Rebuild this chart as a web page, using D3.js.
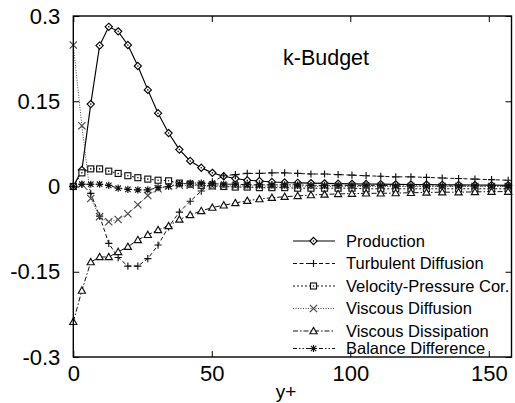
<!DOCTYPE html>
<html>
<head>
<meta charset="utf-8">
<script src="https://cdn.jsdelivr.net/npm/d3@7"></script>
<style>
  html, body { margin: 0; padding: 0; background: #fff; }
  svg { display: block; font-family: "Liberation Sans", Arial, Helvetica, sans-serif; }
</style>
</head>
<body>
<svg id="chart" width="515" height="403"></svg>
<script>
// Wall-normal positions (y+) of the sampled grid points
const yPlus = [0, 3.1, 6.3, 9.5, 12.8, 16.2, 19.7, 23.3, 26.9, 30.6, 34.4, 38.3, 42.2, 46.2,
  50.2, 54.3, 58.5, 62.8, 67.2, 71.7, 76.3, 81.0, 85.8, 90.7, 95.6, 100.6, 105.7, 111.0,
  116.4, 121.9, 127.5, 133.2, 139.1, 145.0, 151.0, 157.0];

// Budget terms of the turbulent kinetic energy equation
const production = [0, 0.029, 0.145, 0.248, 0.281, 0.273, 0.249, 0.212, 0.170, 0.129, 0.094,
  0.065, 0.045, 0.033, 0.024, 0.018, 0.014, 0.011, 0.0097, 0.008, 0.007, 0.0065, 0.006,
  0.0055, 0.005, 0.0047, 0.0044, 0.0041, 0.0038, 0.0035, 0.0033, 0.003, 0.0028, 0.0026,
  0.0024, 0.0022];
const turbulentDiffusion = [0, 0.004, -0.012, -0.052, -0.100, -0.125, -0.140, -0.140, -0.127,
  -0.103, -0.071, -0.045, -0.026, -0.008, 0.008, 0.019, 0.021, 0.023, 0.023, 0.024, 0.024,
  0.023, 0.022, 0.022, 0.021, 0.020, 0.019, 0.018, 0.017, 0.017, 0.016, 0.015, 0.014,
  0.013, 0.012, 0.011];
const velocityPressure = [0, 0.024, 0.031, 0.031, 0.027, 0.023, 0.019, 0.0155, 0.013, 0.011,
  0.010, 0.006, 0.004, 0.002, 0.001, 0, -0.001, -0.001, -0.002, -0.002, -0.002, -0.003,
  -0.003, -0.003, -0.003, -0.003, -0.004, -0.004, -0.004, -0.004, -0.004, -0.004, -0.004,
  -0.004, -0.004, -0.004];
const viscousDiffusion = [0.249, 0.107, -0.021, -0.053, -0.062, -0.058, -0.048, -0.032, -0.016,
  -0.004, 0.001, 0.002, 0.002, 0.002, 0.001, 0.001, 0.001, 0.001, 0.001, 0.0005, 0.0005,
  0.0005, 0.0005, 0, 0, 0, 0, 0, 0, 0, 0, 0, 0, 0, 0, 0];
const viscousDissipation = [-0.238, -0.183, -0.133, -0.124, -0.124, -0.115, -0.106, -0.094,
  -0.085, -0.0765, -0.0695, -0.058, -0.050, -0.043, -0.037, -0.033, -0.029, -0.025, -0.022,
  -0.0197, -0.018, -0.0165, -0.015, -0.014, -0.013, -0.0125, -0.012, -0.012, -0.0115,
  -0.011, -0.0105, -0.010, -0.010, -0.0095, -0.009, -0.009];
const balanceDifference = [0, 0.004, 0.004, 0.004, 0.002, -0.003, -0.005, -0.006, -0.006,
  -0.002, 0, 0.005, 0.006, 0.006, 0.005, 0.004, 0.004, 0.003, 0.003, 0.003, 0.003, 0.003,
  0.002, 0.002, 0.002, 0.002, 0.002, 0.002, 0.001, 0.001, 0.001, 0.001, 0.001, 0.001,
  0.001, 0.001];

const seriesNames = ["Production", "Turbulent Diffusion", "Velocity-Pressure Cor.",
  "Viscous Diffusion", "Viscous Dissipation", "Balance Difference"];
const seriesValues = [production, turbulentDiffusion, velocityPressure,
  viscousDiffusion, viscousDissipation, balanceDifference];

const xTicks = [0, 50, 100, 150];
const yTicks = [-0.3, -0.15, 0, 0.15, 0.3];
const yTickLabels = ["-0.3", "-0.15", "0", "0.15", "0.3"];
const titleText = "k-Budget";
const xLabel = "y+";

// ---- layout ----
const svg = d3.select("#chart");
const plotLeft = 73.3, plotRight = 511.5, plotTop = 16, plotBottom = 357;
const x = d3.scaleLinear().domain([0, 158.2]).range([plotLeft, plotRight]);
const y = d3.scaleLinear().domain([-0.3, 0.3]).range([plotBottom, plotTop]);

// line styles and markers per series
const styles = [
  { dash: null, color: "#000", width: 1.15, marker: "diamond" },
  { dash: "4,2.5", color: "#111", width: 1, marker: "plus" },
  { dash: "2,2", color: "#111", width: 1, marker: "square" },
  { dash: "1,1.5", color: "#444", width: 1, marker: "cross" },
  { dash: "5,2,1.5,2", color: "#111", width: 1, marker: "triangle" },
  { dash: "4,2,1.5,2,1.5,2", color: "#111", width: 1, marker: "star" }
];

function drawMarker(g, type, cx, cy, color) {
  const s = 3.6;
  const m = g.append("g").attr("transform", `translate(${cx},${cy})`)
    .attr("fill", "none").attr("stroke", color).attr("stroke-width", 1.15);
  switch (type) {
    case "diamond":
      m.append("path").attr("d", `M0,${-s}L${s},0L0,${s}L${-s},0Z`).attr("fill", "#fff");
      m.append("circle").attr("r", 0.8).attr("fill", color).attr("stroke", "none");
      break;
    case "plus":
      m.append("path").attr("d", `M${-s},0H${s}M0,${-s}V${s}`);
      break;
    case "square":
      m.append("rect").attr("x", -3).attr("y", -3).attr("width", 6).attr("height", 6).attr("fill", "#fff");
      m.append("circle").attr("r", 0.8).attr("fill", color).attr("stroke", "none");
      break;
    case "cross":
      m.append("path").attr("d", `M${-s},${-s}L${s},${s}M${-s},${s}L${s},${-s}`);
      break;
    case "triangle":
      m.append("path").attr("d", `M0,${-s}L${s},${s * 0.75}L${-s},${s * 0.75}Z`).attr("fill", "#fff");
      break;
    case "star":
      m.append("path").attr("d", `M${-s},0H${s}M0,${-s}V${s}M${-s * 0.75},${-s * 0.75}L${s * 0.75},${s * 0.75}M${-s * 0.75},${s * 0.75}L${s * 0.75},${-s * 0.75}`);
      break;
  }
}

const plot = svg.append("g");
const line = d3.line().x(d => x(d[0])).y(d => y(d[1]));

seriesValues.forEach((vals, i) => {
  const st = styles[i];
  const pts = yPlus.map((xv, j) => [xv, vals[j]]);
  plot.append("path").datum(pts)
    .attr("d", line)
    .attr("fill", "none")
    .attr("stroke", st.color)
    .attr("stroke-width", st.width)
    .attr("stroke-dasharray", st.dash);
});
seriesValues.forEach((vals, i) => {
  const st = styles[i];
  yPlus.forEach((xv, j) => drawMarker(plot, st.marker, x(xv), y(vals[j]), st.color));
});

// ---- axes: inward ticks on all four sides ----
const tickLen = 6;
const fmt = d => yTickLabels[yTicks.indexOf(d)];

svg.append("g").attr("transform", `translate(${plotLeft},0)`)
  .call(d3.axisLeft(y).tickValues(yTicks).tickFormat(fmt).tickSize(-tickLen).tickPadding(13))
  .call(g => g.select(".domain").remove())
  .call(g => g.selectAll("text").attr("font-size", 22).attr("fill", "#000")
    .attr("font-family", "Liberation Sans, Arial, sans-serif"));

svg.append("g").attr("transform", `translate(${plotRight},0)`)
  .call(d3.axisRight(y).tickValues(yTicks).tickFormat("").tickSize(-tickLen))
  .call(g => g.select(".domain").remove());

svg.append("g").attr("transform", `translate(0,${plotBottom})`)
  .call(d3.axisBottom(x).tickValues(xTicks).tickFormat(d3.format("d")).tickSize(-tickLen).tickPadding(8))
  .call(g => g.select(".domain").remove())
  .call(g => g.selectAll("text").attr("font-size", 22).attr("fill", "#000")
    .attr("font-family", "Liberation Sans, Arial, sans-serif"));

svg.append("g").attr("transform", `translate(0,${plotTop})`)
  .call(d3.axisTop(x).tickValues(xTicks).tickFormat("").tickSize(-tickLen))
  .call(g => g.select(".domain").remove());

svg.selectAll(".tick line").attr("stroke", "#000").attr("stroke-width", 1);

// frame
svg.append("rect").attr("x", plotLeft).attr("y", plotTop)
  .attr("width", plotRight - plotLeft).attr("height", plotBottom - plotTop)
  .attr("fill", "none").attr("stroke", "#000").attr("stroke-width", 1.4);

// title and x label
svg.append("text").attr("x", 283).attr("y", 65).attr("font-size", 21.5)
  .attr("fill", "#000").text(titleText);
svg.append("text").attr("x", 286).attr("y", 398).attr("text-anchor", "middle")
  .attr("font-size", 19).attr("fill", "#000").text(xLabel);

// ---- legend ----
const legendRows = [241, 263.5, 286, 308.5, 331, 348.5];
const legend = svg.append("g");
seriesNames.forEach((name, i) => {
  const st = styles[i];
  const ly = legendRows[i];
  legend.append("line").attr("x1", 293).attr("x2", 335).attr("y1", ly).attr("y2", ly)
    .attr("stroke", st.color).attr("stroke-width", st.width).attr("stroke-dasharray", st.dash);
  drawMarker(legend, st.marker, 313.5, ly, st.color);
  legend.append("text").attr("x", 346).attr("y", ly).attr("dy", "0.35em")
    .attr("font-size", 16.5).attr("fill", "#000").text(name);
});
</script>
</body>
</html>
